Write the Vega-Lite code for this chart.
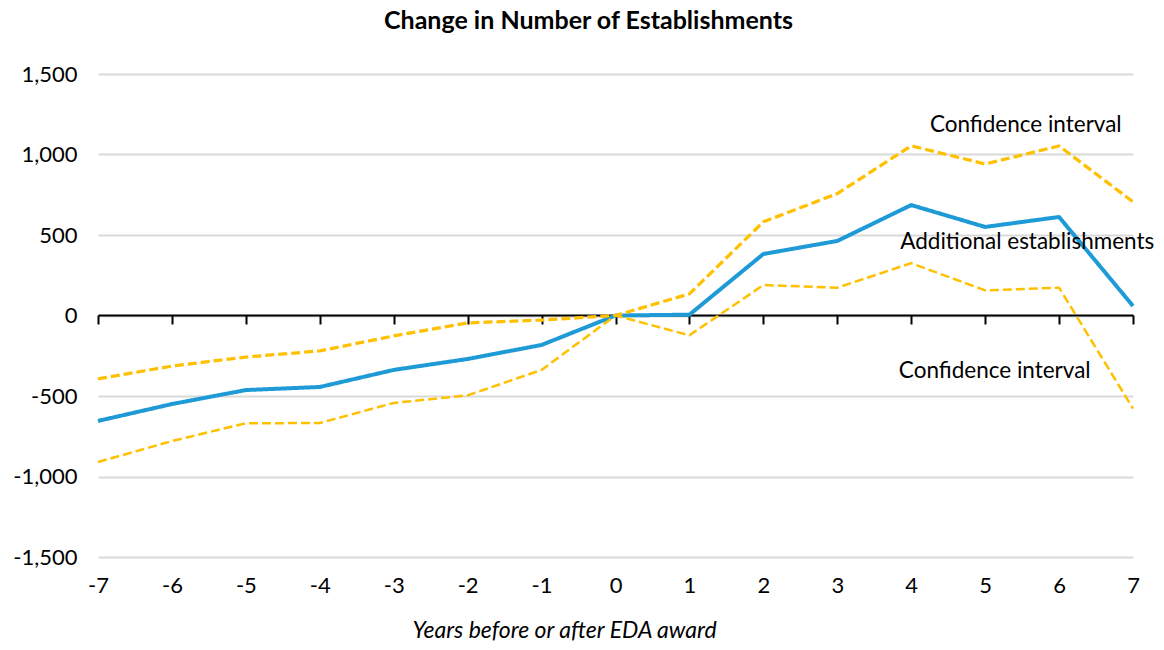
{
  "$schema": "https://vega.github.io/schema/vega-lite/v6.json",
  "width": 1035,
  "height": 483,
  "autosize": {"type": "none"},
  "padding": {"left": 98, "top": 74, "right": 31, "bottom": 93},
  "config": {"font": "Lato", "view": {"stroke": null}},
  "title": {"text": "Change in Number of Establishments", "font": "Lato", "fontSize": 25, "fontWeight": "bold", "color": "#000000", "anchor": "middle", "dx": -27, "offset": 29},
  "datasets": {
    "series": [
      {"year": -7, "series": "Additional establishments", "value": -655},
      {"year": -6, "series": "Additional establishments", "value": -550},
      {"year": -5, "series": "Additional establishments", "value": -463},
      {"year": -4, "series": "Additional establishments", "value": -444},
      {"year": -3, "series": "Additional establishments", "value": -338},
      {"year": -2, "series": "Additional establishments", "value": -270},
      {"year": -1, "series": "Additional establishments", "value": -183},
      {"year": 0, "series": "Additional establishments", "value": 0},
      {"year": 1, "series": "Additional establishments", "value": 5},
      {"year": 2, "series": "Additional establishments", "value": 382},
      {"year": 3, "series": "Additional establishments", "value": 463},
      {"year": 4, "series": "Additional establishments", "value": 686},
      {"year": 5, "series": "Additional establishments", "value": 550},
      {"year": 6, "series": "Additional establishments", "value": 612},
      {"year": 7, "series": "Additional establishments", "value": 59},
      {"year": -7, "series": "Upper confidence interval", "value": -394},
      {"year": -6, "series": "Upper confidence interval", "value": -314},
      {"year": -5, "series": "Upper confidence interval", "value": -258},
      {"year": -4, "series": "Upper confidence interval", "value": -220},
      {"year": -3, "series": "Upper confidence interval", "value": -127},
      {"year": -2, "series": "Upper confidence interval", "value": -46},
      {"year": -1, "series": "Upper confidence interval", "value": -28},
      {"year": 0, "series": "Upper confidence interval", "value": 0},
      {"year": 1, "series": "Upper confidence interval", "value": 134},
      {"year": 2, "series": "Upper confidence interval", "value": 582},
      {"year": 3, "series": "Upper confidence interval", "value": 757},
      {"year": 4, "series": "Upper confidence interval", "value": 1054},
      {"year": 5, "series": "Upper confidence interval", "value": 941},
      {"year": 6, "series": "Upper confidence interval", "value": 1053},
      {"year": 7, "series": "Upper confidence interval", "value": 706},
      {"year": -7, "series": "Lower confidence interval", "value": -910},
      {"year": -6, "series": "Lower confidence interval", "value": -780},
      {"year": -5, "series": "Lower confidence interval", "value": -669},
      {"year": -4, "series": "Lower confidence interval", "value": -668},
      {"year": -3, "series": "Lower confidence interval", "value": -543},
      {"year": -2, "series": "Lower confidence interval", "value": -496},
      {"year": -1, "series": "Lower confidence interval", "value": -338},
      {"year": 0, "series": "Lower confidence interval", "value": 0},
      {"year": 1, "series": "Lower confidence interval", "value": -123},
      {"year": 2, "series": "Lower confidence interval", "value": 189},
      {"year": 3, "series": "Lower confidence interval", "value": 173},
      {"year": 4, "series": "Lower confidence interval", "value": 325},
      {"year": 5, "series": "Lower confidence interval", "value": 156},
      {"year": 6, "series": "Lower confidence interval", "value": 173},
      {"year": 7, "series": "Lower confidence interval", "value": -578}
    ],
    "labels": [
      {"year": 5.55, "value": 1183, "label": "Confidence interval"},
      {"year": 5.57, "value": 456, "label": "Additional establishments"},
      {"year": 5.13, "value": -345, "label": "Confidence interval"}
    ]
  },
  "layer": [
    {
      "data": {"name": "series"},
      "mark": {"type": "line", "strokeCap": "butt", "strokeJoin": "round"},
      "encoding": {
        "x": {
          "field": "year", "type": "quantitative",
          "scale": {"domain": [-7, 7], "nice": false, "zero": false},
          "axis": {
            "title": "Years before or after EDA award",
            "titleFont": "Lato", "titleFontSize": 23, "titleFontStyle": "italic", "titleFontWeight": "normal", "titleColor": "#000000",
            "titleX": 466, "titleY": 322, "titleBaseline": "alphabetic", "titleAlign": "center",
            "values": [-7, -6, -5, -4, -3, -2, -1, 0, 1, 2, 3, 4, 5, 6, 7],
            "format": "d",
            "labelExpr": "replace(datum.label, '\u2212', '-')",
            "offset": -242,
            "domain": true, "domainColor": "#000000", "domainWidth": 2,
            "ticks": true, "tickColor": "#000000", "tickWidth": 2, "tickSize": 9,
            "labelFont": "Lato", "labelFontSize": 22, "labelColor": "#000000", "labelPadding": 251,
            "labelFlush": false,
            "grid": false
          }
        },
        "y": {
          "field": "value", "type": "quantitative",
          "scale": {"domain": [-1500, 1500], "nice": false},
          "axis": {
            "title": null,
            "values": [-1500, -1000, -500, 0, 500, 1000, 1500],
            "format": ",d",
            "labelExpr": "replace(datum.label, '\u2212', '-')",
            "domain": false, "ticks": false,
            "labelFont": "Lato", "labelFontSize": 22, "labelColor": "#000000", "labelPadding": 21,
            "grid": true, "gridColor": "#d9d9d9", "gridWidth": 2
          }
        },
        "detail": {"field": "series"},
        "color": {
          "field": "series", "type": "nominal",
          "scale": {"domain": ["Additional establishments", "Upper confidence interval", "Lower confidence interval"], "range": ["#1e9ad6", "#ffc000", "#ffc000"]},
          "legend": null
        },
        "strokeDash": {
          "field": "series", "type": "nominal",
          "scale": {"domain": ["Additional establishments", "Upper confidence interval", "Lower confidence interval"], "range": [[1, 0], [9, 4], [9, 4]]},
          "legend": null
        },
        "strokeWidth": {
          "field": "series", "type": "nominal",
          "scale": {"domain": ["Additional establishments", "Upper confidence interval", "Lower confidence interval"], "range": [4, 2.5, 2.5]},
          "legend": null
        }
      }
    },
    {
      "data": {"name": "labels"},
      "mark": {"type": "text", "font": "Lato", "fontSize": 22.5, "color": "#000000", "align": "center", "baseline": "middle"},
      "encoding": {
        "x": {"field": "year", "type": "quantitative"},
        "y": {"field": "value", "type": "quantitative"},
        "text": {"field": "label"}
      }
    }
  ]
}
